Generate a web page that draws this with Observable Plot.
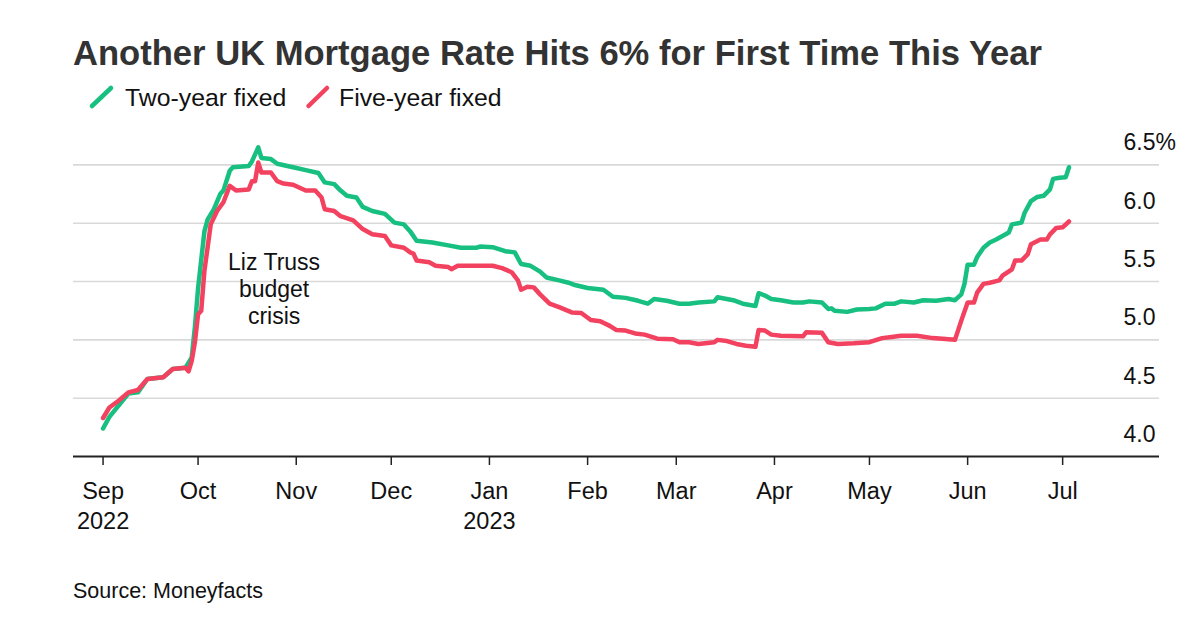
<!DOCTYPE html>
<html>
<head>
<meta charset="utf-8">
<script src="https://cdn.jsdelivr.net/npm/d3@7"></script>
<script src="https://cdn.jsdelivr.net/npm/@observablehq/plot@0.6"></script>
<style>
  html, body { margin: 0; padding: 0; background: #fff; }
  body { width: 1200px; height: 626px; position: relative; overflow: hidden;
         font-family: "Liberation Sans", Arial, Helvetica, sans-serif; }
  #title { position: absolute; left: 73px; top: 36px; font-size: 34.6px; line-height: 34px;
           font-weight: bold; color: #333; white-space: nowrap; }
  #legend { position: absolute; left: 0; top: 0; width: 1200px; height: 120px; }
  .lg-text { position: absolute; top: 86px; font-size: 24.8px; line-height: 24px; color: #111; white-space: nowrap; }
  #chart { position: absolute; left: 0; top: 120px; }
  #source { position: absolute; left: 73px; top: 581px; font-size: 21.5px; line-height: 21px; color: #111; white-space: nowrap; }
</style>
</head>
<body>
<div id="title">Another UK Mortgage Rate Hits 6% for First Time This Year</div>
<svg id="legend" width="1200" height="120">
  <line x1="92" y1="106" x2="111" y2="88" stroke="#17bf80" stroke-width="4.5" stroke-linecap="round"/>
  <line x1="308.5" y1="106" x2="327" y2="88" stroke="#f2425f" stroke-width="4.5" stroke-linecap="round"/>
</svg>
<div class="lg-text" style="left:125px">Two-year fixed</div>
<div class="lg-text" style="left:339px">Five-year fixed</div>
<div id="chart"></div>
<div id="source">Source: Moneyfacts</div>
<script>
// ---- Data ----
const seriesNames = ["Two-year fixed", "Five-year fixed"];
const seriesColors = ["#17bf80", "#f2425f"];

const twoYearDates = [
  "2022-09-01","2022-09-03","2022-09-09","2022-09-12","2022-09-15","2022-09-20","2022-09-23","2022-09-27",
  "2022-09-29","2022-09-30","2022-10-01","2022-10-03","2022-10-04","2022-10-06","2022-10-08","2022-10-09",
  "2022-10-11","2022-10-12","2022-10-17","2022-10-18","2022-10-20","2022-10-21","2022-10-24","2022-10-26",
  "2022-10-31","2022-11-04","2022-11-08","2022-11-10","2022-11-13","2022-11-15","2022-11-17","2022-11-20",
  "2022-11-22","2022-11-25","2022-11-29","2022-12-02","2022-12-05","2022-12-07","2022-12-09","2022-12-14",
  "2022-12-19","2022-12-23","2022-12-28","2022-12-29","2023-01-02","2023-01-06","2023-01-09","2023-01-11",
  "2023-01-14","2023-01-17","2023-01-19","2023-01-23","2023-01-26","2023-01-28","2023-02-01","2023-02-06",
  "2023-02-09","2023-02-13","2023-02-17","2023-02-20","2023-02-22","2023-02-26","2023-03-02","2023-03-05",
  "2023-03-08","2023-03-13","2023-03-14","2023-03-19","2023-03-22","2023-03-26","2023-03-27","2023-03-29",
  "2023-03-31","2023-04-03","2023-04-07","2023-04-10","2023-04-12","2023-04-16","2023-04-18","2023-04-19",
  "2023-04-20","2023-04-24","2023-04-27","2023-05-01","2023-05-03","2023-05-06","2023-05-09","2023-05-11",
  "2023-05-15","2023-05-18","2023-05-22","2023-05-26","2023-05-28","2023-05-30","2023-05-31","2023-06-01",
  "2023-06-03","2023-06-04","2023-06-06","2023-06-08","2023-06-10","2023-06-12","2023-06-14","2023-06-15",
  "2023-06-18","2023-06-19","2023-06-21","2023-06-23","2023-06-25","2023-06-27","2023-06-28","2023-06-30",
  "2023-07-02","2023-07-03"
];
const twoYearRates = [
  4.24,4.34,4.54,4.55,4.665,4.68,4.75,4.76,
  4.85,5.11,5.44,5.93,6.03,6.12,6.25,6.28,
  6.45,6.48,6.49,6.53,6.65,6.56,6.55,6.51,
  6.48,6.455,6.43,6.35,6.335,6.28,6.235,6.22,
  6.14,6.105,6.08,6.005,5.99,5.93,5.85,5.835,
  5.81,5.79,5.79,5.80,5.795,5.76,5.75,5.65,
  5.635,5.585,5.535,5.51,5.49,5.47,5.445,5.43,
  5.37,5.36,5.335,5.31,5.35,5.335,5.31,5.31,
  5.32,5.33,5.365,5.34,5.31,5.29,5.40,5.38,
  5.35,5.34,5.32,5.32,5.33,5.32,5.265,5.27,
  5.25,5.24,5.26,5.265,5.27,5.31,5.31,5.33,
  5.32,5.34,5.335,5.35,5.34,5.39,5.48,5.645,
  5.645,5.71,5.79,5.835,5.86,5.89,5.92,5.99,
  6.005,6.09,6.19,6.225,6.235,6.29,6.38,6.39,
  6.395,6.48
];

const fiveYearDates = [
  "2022-09-01","2022-09-03","2022-09-06","2022-09-09","2022-09-12","2022-09-15","2022-09-20","2022-09-23",
  "2022-09-27","2022-09-28","2022-09-29","2022-09-30","2022-10-01","2022-10-02","2022-10-03","2022-10-05",
  "2022-10-07","2022-10-09","2022-10-11","2022-10-13","2022-10-17","2022-10-18","2022-10-19","2022-10-20",
  "2022-10-21","2022-10-24","2022-10-26","2022-10-28","2022-10-31","2022-11-04","2022-11-07","2022-11-09",
  "2022-11-10","2022-11-13","2022-11-15","2022-11-19","2022-11-22","2022-11-25","2022-11-29","2022-12-01",
  "2022-12-05","2022-12-07","2022-12-08","2022-12-09","2022-12-13","2022-12-15","2022-12-19","2022-12-20",
  "2022-12-22","2022-12-29","2023-01-02","2023-01-05","2023-01-08","2023-01-10","2023-01-11","2023-01-13",
  "2023-01-15","2023-01-17","2023-01-20","2023-01-23","2023-01-27","2023-01-30","2023-02-02","2023-02-05",
  "2023-02-08","2023-02-10","2023-02-13","2023-02-16","2023-02-19","2023-02-23","2023-02-28","2023-03-02",
  "2023-03-05","2023-03-08","2023-03-13","2023-03-14","2023-03-17","2023-03-20","2023-03-23","2023-03-26",
  "2023-03-27","2023-03-29","2023-03-31","2023-04-03","2023-04-10","2023-04-11","2023-04-16","2023-04-18",
  "2023-04-21","2023-04-26","2023-05-01","2023-05-05","2023-05-08","2023-05-11","2023-05-16","2023-05-21",
  "2023-05-28","2023-05-30","2023-06-01","2023-06-03","2023-06-04","2023-06-06","2023-06-08","2023-06-11",
  "2023-06-12","2023-06-15","2023-06-16","2023-06-18","2023-06-20","2023-06-21","2023-06-24","2023-06-26",
  "2023-06-27","2023-06-29","2023-07-01","2023-07-03"
];
const fiveYearRates = [
  4.33,4.42,4.48,4.55,4.57,4.665,4.68,4.75,
  4.76,4.73,4.82,4.98,5.22,5.25,5.59,5.99,
  6.105,6.18,6.32,6.28,6.29,6.36,6.36,6.52,
  6.435,6.435,6.36,6.34,6.33,6.28,6.28,6.22,
  6.12,6.105,6.06,6.025,5.95,5.905,5.89,5.81,
  5.79,5.75,5.74,5.68,5.665,5.635,5.625,5.605,
  5.635,5.635,5.635,5.615,5.58,5.51,5.43,5.455,
  5.45,5.39,5.31,5.28,5.235,5.23,5.17,5.16,
  5.12,5.085,5.08,5.055,5.045,5.01,5.005,4.98,
  4.98,4.965,4.98,5.00,4.99,4.965,4.95,4.94,
  5.085,5.08,5.045,5.035,5.03,5.065,5.06,4.98,
  4.965,4.97,4.98,5.015,5.025,5.035,5.035,5.015,
  5.00,5.165,5.32,5.32,5.405,5.48,5.49,5.51,
  5.55,5.605,5.68,5.68,5.735,5.82,5.86,5.86,
  5.905,5.96,5.965,6.015
];

const monthTicks = ["2022-09-01","2022-10-01","2022-11-01","2022-12-01","2023-01-01","2023-02-01",
                    "2023-03-01","2023-04-01","2023-05-01","2023-06-01","2023-07-01"];
const monthLabels = ["Sep\n2022","Oct","Nov","Dec","Jan\n2023","Feb","Mar","Apr","May","Jun","Jul"];

const yTicks = [4.0, 4.5, 5.0, 5.5, 6.0, 6.5];
const yTickLabels = ["4.0", "4.5", "5.0", "5.5", "6.0", "6.5%"];

const annotation = [{date: "2022-10-25", rate: 5.44, text: "Liz Truss\nbudget\ncrisis"}];

// ---- Build tables ----
const rows = [];
twoYearDates.forEach((d, i) => rows.push({series: seriesNames[0], date: new Date(d), rate: twoYearRates[i]}));
fiveYearDates.forEach((d, i) => rows.push({series: seriesNames[1], date: new Date(d), rate: fiveYearRates[i]}));
const tickDates = monthTicks.map(d => new Date(d));
const annot = annotation.map(a => ({...a, date: new Date(a.date)}));

const FONT = '"Liberation Sans", Arial, Helvetica, sans-serif';

const chart = Plot.plot({
  width: 1200,
  height: 440,
  marginLeft: 73,
  marginRight: 41,
  marginTop: 44.4,
  marginBottom: 104,
  style: {fontFamily: FONT, fontSize: "23px", color: "#111", background: "transparent", overflow: "visible"},
  x: {type: "utc", domain: [new Date(Date.UTC(2022, 7, 22, 16)), new Date(Date.UTC(2023, 6, 31, 14))]},
  y: {domain: [4, 6.5]},
  color: {domain: seriesNames, range: seriesColors},
  marks: [
    Plot.gridY(yTicks.slice(1), {stroke: "#d9d9d9", strokeOpacity: 1, strokeWidth: 1.6}),
    Plot.axisY(yTicks, {
      anchor: "right", tickSize: 0, tickPadding: 0, dx: -36, dy: -22, textAnchor: "start",
      tickFormat: d => yTickLabels[yTicks.indexOf(d)], fontSize: 23, label: null, fill: "#111"
    }),
    Plot.axisX(tickDates, {
      tickSize: 9, tickPadding: 12, stroke: "#222", strokeWidth: 1.5,
      tickFormat: d => monthLabels[tickDates.findIndex(t => +t === +d)],
      fontSize: 23.5, lineHeight: 1.28, label: null, fill: "#111"
    }),
    Plot.ruleY([4], {stroke: "#222", strokeWidth: 1.8}),
    Plot.line(rows.filter(r => r.series === seriesNames[0]), {x: "date", y: "rate", stroke: "series", strokeWidth: 4.5, strokeLinejoin: "round", strokeLinecap: "round"}),
    Plot.line(rows.filter(r => r.series === seriesNames[1]), {x: "date", y: "rate", stroke: "series", strokeWidth: 4.5, strokeLinejoin: "round", strokeLinecap: "round"}),
    Plot.text(annot, {x: "date", y: "rate", text: "text", fontSize: 23, lineHeight: 1.17, textAnchor: "middle", fill: "#111"})
  ]
});
document.getElementById("chart").appendChild(chart);
</script>
</body>
</html>
